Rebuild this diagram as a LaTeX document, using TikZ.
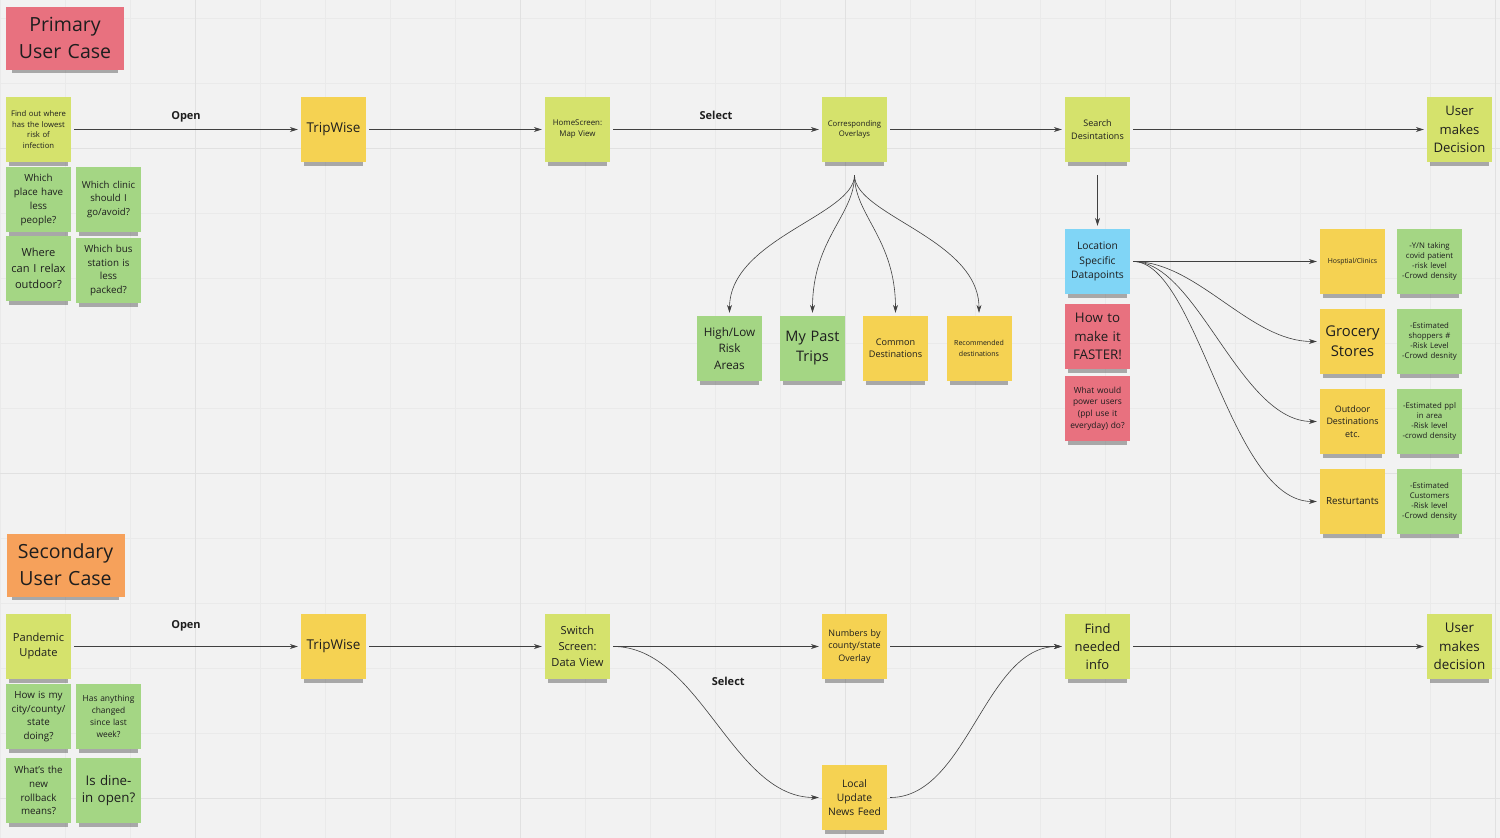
\documentclass[tikz,border=0pt]{standalone}
\usepackage{fontspec}
\setmainfont{Open Sans}
\usepackage{tikz}
\usetikzlibrary{arrows.meta, positioning, shadows}
\definecolor{bgray}{HTML}{F2F2F2}
\definecolor{gridmin}{HTML}{EAEAEA}
\definecolor{gridmaj}{HTML}{E1E1E1}
\definecolor{mlime}{HTML}{D5E26C}
\definecolor{myellow}{HTML}{F5D252}
\definecolor{mgreen}{HTML}{A4D684}
\definecolor{mblue}{HTML}{80D5F6}
\definecolor{mpink}{HTML}{E8717F}
\definecolor{morange}{HTML}{F6A15B}
\definecolor{ink}{HTML}{1E1E1E}
\newcommand{\fsz}[2]{\fontsize{#1}{#2}\selectfont}

\begin{document}
\begin{tikzpicture}[
  x=1pt, y=-1pt,
  sticky/.style={rectangle, fill=#1, minimum width=65pt, minimum height=65pt,
    text width=61pt, inner sep=2pt, align=center, text=ink,
    drop shadow={shadow xshift=0pt, shadow yshift=-7.5pt, shadow scale=0.9,
      opacity=0.3, fill=black}},
  title/.style={sticky=#1, minimum width=118pt, minimum height=63pt, text width=112pt,
    font=\fsz{19.5}{27}},
  link/.style={draw=ink!85, line width=0.6pt, -{Stealth[length=8pt, width=5pt]},
    shorten <=3pt, shorten >=3pt},
  lbl/.style={font=\bfseries\fsz{11}{13}, text=ink, text height=8pt, text depth=2.5pt},
  info/.style={sticky=mgreen, font=\fsz{7.8}{10.3}},
]
  % board
  \useasboundingbox (0,0) rectangle (1500,838);
  \fill[bgray] (0,0) rectangle (1500,838);
  \foreach \gx in {0,65,...,1495} \draw[gridmin, line width=0.8pt] (\gx,0) -- (\gx,838);
  \foreach \gy in {18,83,...,838} \draw[gridmin, line width=0.8pt] (0,\gy) -- (1500,\gy);
  \foreach \gx in {195,520,...,1495} \draw[gridmaj, line width=1pt] (\gx,0) -- (\gx,838);
  \foreach \gy in {148,473,798} \draw[gridmaj, line width=1pt] (0,\gy) -- (1500,\gy);

  % primary user case
  \node[title=mpink] (prim) at (65,38) {Primary\\User Case};
  \node[sticky=mlime, font=\fsz{7.7}{10.5}] (find) at (38.5,129.5) {Find out where\\has the lowest\\risk of\\infection};
  \node[sticky=mgreen, font=\fsz{9.8}{14}] (q1) at (38.5,199.5) {Which\\place have\\less\\people?};
  \node[sticky=mgreen, font=\fsz{9.6}{13.7}] (q2) at (108.5,199.5) {Which clinic\\should I\\go/avoid?};
  \node[sticky=mgreen, font=\fsz{11.1}{15.7}] (q3) at (38.5,268.5) {Where\\can I relax\\outdoor?};
  \node[sticky=mgreen, font=\fsz{9.8}{13.7}] (q4) at (108.5,270.5) {Which bus\\station is\\less\\packed?};
  \node[sticky=myellow, font=\fsz{13.5}{16}] (trip) at (333.5,129.5) {TripWise};
  \node[sticky=mlime, font=\fsz{7.9}{11}] (home) at (577.5,129.5) {HomeScreen:\\Map View};
  \node[sticky=mlime, font=\fsz{7.7}{10.5}] (ovl) at (854.5,129.5) {Corresponding\\Overlays};
  \node[sticky=mlime, font=\fsz{9}{12.3}] (srch) at (1097.5,129.5) {Search\\Desintations};
  \node[sticky=mlime, font=\fsz{13.1}{18.3}] (dec) at (1459.5,129.5) {User\\makes\\Decision};

  \node[sticky=mgreen, font=\fsz{11.7}{16.7}] (risk) at (729.5,348.5) {High/Low\\Risk\\Areas};
  \node[sticky=mgreen, font=\fsz{14.5}{20}] (past) at (812.5,348.5) {My Past\\Trips};
  \node[sticky=myellow, font=\fsz{9.1}{12.3}] (common) at (895.5,348.5) {Common\\Destinations};
  \node[sticky=myellow, font=\fsz{7}{10.7}] (recom) at (979,348.5) {Recommended\\destinations};

  \node[sticky=mblue, font=\fsz{10.3}{14.4}] (loc) at (1097.5,261.5) {Location\\Specific\\Datapoints};
  \node[sticky=mpink, font=\fsz{13.3}{18.3}] (fast) at (1097.5,336.5) {How to\\make it\\FASTER!};
  \node[sticky=mpink, font=\fsz{8.4}{11.7}] (power) at (1097.5,408.5) {What would\\power users\\(ppl use it\\everyday) do?};

  \node[sticky=myellow, font=\fsz{6.9}{9}] (hosp) at (1352.5,261.5) {Hosptial/Clinics};
  \node[info] (hospI) at (1429.5,261.5) {-Y/N taking\\covid patient\\-risk level\\-Crowd density};
  \node[sticky=myellow, font=\fsz{14.8}{20}] (groc) at (1352.5,341.5) {Grocery\\Stores};
  \node[info] (grocI) at (1429.5,341.5) {-Estimated\\shoppers \#\\-Risk Level\\-Crowd desnity};
  \node[sticky=myellow, font=\fsz{8.9}{12.7}] (outd) at (1352.5,421.5) {Outdoor\\Destinations\\etc.};
  \node[info] (outdI) at (1429.5,421.5) {-Estimated ppl\\in area\\-Risk level\\-crowd density};
  \node[sticky=myellow, font=\fsz{9.8}{12}] (rest) at (1352.5,501.5) {Resturtants};
  \node[info] (restI) at (1429.5,501.5) {-Estimated\\Customers\\-Risk level\\-Crowd density};

  \draw[link] (find) -- node[lbl, above=3.7pt] {Open} (trip);
  \draw[link] (trip) -- (home);
  \draw[link] (home) -- node[lbl, above=3.7pt] {Select} (ovl);
  \draw[link] (ovl) -- (srch);
  \draw[link] (srch) -- (dec);

  \coordinate (ovFork) at ([yshift=-13pt]ovl.south);
  \draw[link, shorten <=0pt] (ovFork) .. controls +(0,40) and +(0,-77) .. (risk.north);
  \draw[link, shorten <=0pt] (ovFork) .. controls +(0,40) and +(0,-77) .. (past.north);
  \draw[link, shorten <=0pt] (ovFork) .. controls +(0,40) and +(0,-77) .. (common.north);
  \draw[link, shorten <=0pt] (ovFork) .. controls +(0,40) and +(0,-77) .. (recom.north);

  \draw[link, shorten <=13pt] (srch) -- (loc);
  \draw[link] (loc) -- (hosp);
  \draw[link] (loc.east) .. controls +(67,0) and +(-70,0) .. (groc.west);
  \draw[link] (loc.east) .. controls +(67,0) and +(-80,0) .. (outd.west);
  \draw[link] (loc.east) .. controls +(67,0) and +(-90,0) .. (rest.west);

  % secondary user case
  \node[title=morange] (sec) at (65.5,565) {Secondary\\User Case};
  \node[sticky=mlime, font=\fsz{11.1}{15}] (pand) at (38.5,646.5) {Pandemic\\Update};
  \node[sticky=mgreen, font=\fsz{9.8}{13.5}] (r1) at (38.5,716.5) {How is my\\city/county/\\state\\doing?};
  \node[sticky=mgreen, font=\fsz{8.4}{12}] (r2) at (108.5,716.5) {Has anything\\changed\\since last\\week?};
  \node[sticky=mgreen, font=\fsz{9.8}{13.7}] (r3) at (38.5,790.5) {What's the\\new\\rollback\\means?};
  \node[sticky=mgreen, font=\fsz{13.3}{17.7}] (r4) at (108.5,790.5) {Is dine-\\in open?};
  \node[sticky=myellow, font=\fsz{13.5}{16}] (trip2) at (333.5,646.5) {TripWise};
  \node[sticky=mlime, font=\fsz{11.1}{15.7}] (sw) at (577.5,646.5) {Switch\\Screen:\\Data View};
  \node[sticky=myellow, font=\fsz{9}{12.7}] (num) at (854.5,646.5) {Numbers by\\county/state\\Overlay};
  \node[sticky=myellow, font=\fsz{10.3}{14.3}] (news) at (854.5,797.5) {Local\\Update\\News Feed};
  \node[sticky=mlime, font=\fsz{13}{18.3}] (need) at (1097.5,646.5) {Find\\needed\\info};
  \node[sticky=mlime, font=\fsz{13.4}{18.3}] (dec2) at (1459.5,646.5) {User\\makes\\decision};

  \draw[link] (pand) -- node[lbl, above=11.7pt] {Open} (trip2);
  \draw[link] (trip2) -- (sw);
  \draw[link] (sw) -- (num);
  \draw[link] (sw.east) .. controls +(90,0) and +(-90,0) ..
    node[lbl, pos=0.35, xshift=40pt, yshift=6pt] {Select} (news.west);
  \draw[link] (num) -- (need);
  \draw[link] (news.east) .. controls +(80,0) and +(-80,0) .. (need.west);
  \draw[link] (need) -- (dec2);
\end{tikzpicture}
\end{document}
